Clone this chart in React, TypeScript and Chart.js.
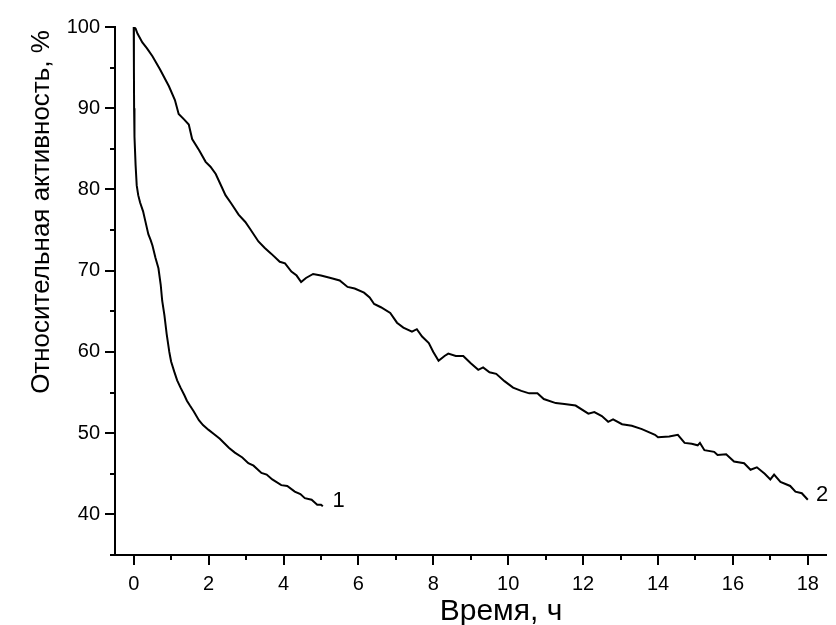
import React, { useEffect, useRef } from "react";
import { Chart, registerables } from "chart.js";

Chart.register(...registerables);

// ---- Data ----
const CURVE1_T = [0, 0.005, 0.01, 0.02, 0.05, 0.08, 0.12, 0.17, 0.25, 0.31, 0.39, 0.45, 0.5, 0.58, 0.66, 0.72, 0.76, 0.82, 0.88, 0.95, 0.97, 1.0, 1.08, 1.16, 1.25, 1.35, 1.42, 1.5, 1.6, 1.74, 1.85, 2.0, 2.14, 2.3, 2.54, 2.7, 2.9, 3.06, 3.2, 3.41, 3.55, 3.7, 3.94, 4.1, 4.3, 4.45, 4.57, 4.75, 4.9, 5.0, 5.05];
const CURVE1_A = [100, 95, 90, 86.5, 83, 80.5, 79.3, 78.4, 77.3, 76.1, 74.5, 73.8, 73.1, 71.6, 70.3, 68.3, 66.3, 64.5, 62.2, 60.0, 59.5, 58.8, 57.6, 56.5, 55.6, 54.7, 54.0, 53.4, 52.7, 51.6, 51.0, 50.4, 49.9, 49.3, 48.2, 47.6, 47.0, 46.3, 46.0, 45.1, 44.9, 44.3, 43.6, 43.5, 42.8, 42.5, 42.0, 41.8, 41.2, 41.2, 41.0];

const CURVE2_T = [0, 0.05, 0.1, 0.23, 0.35, 0.5, 0.7, 0.94, 1.1, 1.2, 1.35, 1.47, 1.56, 1.75, 1.92, 2.05, 2.19, 2.35, 2.45, 2.6, 2.8, 2.98, 3.1, 3.33, 3.5, 3.67, 3.9, 4.04, 4.21, 4.35, 4.47, 4.6, 4.79, 5.0, 5.26, 5.5, 5.71, 5.9, 6.15, 6.3, 6.42, 6.6, 6.85, 7.03, 7.2, 7.43, 7.56, 7.7, 7.88, 8.0, 8.14, 8.3, 8.4, 8.6, 8.8, 9.0, 9.2, 9.33, 9.5, 9.68, 9.9, 10.13, 10.35, 10.56, 10.78, 10.95, 11.27, 11.5, 11.8, 12.14, 12.3, 12.5, 12.67, 12.8, 13.04, 13.3, 13.57, 13.92, 14.0, 14.3, 14.53, 14.71, 14.9, 15.06, 15.12, 15.24, 15.5, 15.59, 15.82, 16.03, 16.3, 16.47, 16.64, 16.85, 17.0, 17.1, 17.27, 17.53, 17.67, 17.84, 18.0];
const CURVE2_A = [100, 99.8, 99.2, 98.1, 97.4, 96.4, 94.8, 92.7, 91.0, 89.3, 88.6, 88.0, 86.2, 84.8, 83.4, 82.8, 81.9, 80.3, 79.3, 78.3, 76.9, 76.0, 75.2, 73.6, 72.8, 72.1, 71.1, 70.9, 69.9, 69.4, 68.6, 69.1, 69.6, 69.4, 69.1, 68.8, 68.0, 67.8, 67.3, 66.7, 65.9, 65.5, 64.8, 63.6, 63.0, 62.5, 62.8, 61.9, 61.1, 60.0, 58.9, 59.5, 59.8, 59.5, 59.5, 58.6, 57.8, 58.1, 57.5, 57.3, 56.4, 55.6, 55.2, 54.9, 54.9, 54.2, 53.7, 53.6, 53.4, 52.4, 52.6, 52.1, 51.4, 51.7, 51.1, 50.9, 50.5, 49.8, 49.5, 49.6, 49.8, 48.8, 48.7, 48.5, 48.8, 47.9, 47.7, 47.3, 47.4, 46.5, 46.3, 45.5, 45.8, 45.0, 44.3, 44.9, 44.0, 43.5, 42.8, 42.6, 41.8];

const X_TICKS = [0, 2, 4, 6, 8, 10, 12, 14, 16, 18];
const Y_TICKS = [40, 50, 60, 70, 80, 90, 100];
const CURVE_LABELS = ["1", "2"];
const CURVE_LABEL_X = [5.47, 18.38];
const CURVE_LABEL_Y = [41.7, 42.4];
const X_TITLE = "Время, ч";
const Y_TITLE = "Относительная активность, %";

const FONT = '"Liberation Sans", Arial, Helvetica, sans-serif';

const decorPlugin = {
  id: "decor",
  afterDraw(chart: any) {
    const ctx = chart.ctx;
    const xs = chart.scales.x;
    const ys = chart.scales.y;
    const area = chart.chartArea;
    ctx.save();
    ctx.strokeStyle = "#000";
    ctx.lineWidth = 2;
    ctx.beginPath();
    for (let v = 0; v <= 18; v++) {
      const px = Math.round(xs.getPixelForValue(v));
      const len = X_TICKS.includes(v) ? 10 : 5;
      ctx.moveTo(px, area.bottom);
      ctx.lineTo(px, area.bottom + len);
    }
    for (let v = 35; v <= 100; v += 5) {
      const py = Math.round(ys.getPixelForValue(v));
      const len = Y_TICKS.includes(v) ? 10 : 5;
      ctx.moveTo(area.left, py);
      ctx.lineTo(area.left - len, py);
    }
    ctx.stroke();

    ctx.fillStyle = "#000";
    ctx.font = `22px ${FONT}`;
    ctx.textAlign = "center";
    ctx.textBaseline = "middle";
    CURVE_LABELS.forEach((t, i) => {
      ctx.fillText(t, xs.getPixelForValue(CURVE_LABEL_X[i]), ys.getPixelForValue(CURVE_LABEL_Y[i]));
    });

    // X title
    ctx.font = `30px ${FONT}`;
    ctx.textAlign = "center";
    ctx.textBaseline = "alphabetic";
    ctx.fillText(X_TITLE, 501, 620);

    // Y title
    ctx.translate(49, 212);
    ctx.rotate(-Math.PI / 2);
    ctx.font = `26px ${FONT}`;
    ctx.textAlign = "center";
    ctx.textBaseline = "alphabetic";
    ctx.fillText(Y_TITLE, 0, 0);
    ctx.restore();
  },
};

export default function App() {
  const ref = useRef<HTMLCanvasElement>(null);
  useEffect(() => {
    if (!ref.current) return;
    const chart = new Chart(ref.current, {
      type: "line",
      data: {
        datasets: [
          {
            label: "1",
            data: CURVE1_T.map((t, i) => ({ x: t, y: CURVE1_A[i] })),
            borderColor: "#000",
            borderWidth: 2,
            pointRadius: 0,
            fill: false,
            tension: 0,
          },
          {
            label: "2",
            data: CURVE2_T.map((t, i) => ({ x: t, y: CURVE2_A[i] })),
            borderColor: "#000",
            borderWidth: 2,
            pointRadius: 0,
            fill: false,
            tension: 0,
          },
        ],
      },
      options: {
        responsive: false,
        animation: false,
        devicePixelRatio: 1,
        layout: { padding: { top: 24, right: 3, left: 0, bottom: 0 } },
        plugins: { legend: { display: false }, tooltip: { enabled: false }, title: { display: false } },
        scales: {
          x: {
            type: "linear",
            min: -0.5,
            max: 18.5,
            grid: { display: false, drawTicks: false },
            border: { display: true, color: "#000", width: 2 },
            afterFit: (s: any) => { s.height = 70; },
            afterBuildTicks: (s: any) => { s.ticks = X_TICKS.map((v) => ({ value: v })); },
            ticks: {
              autoSkip: false,
              maxRotation: 0,
              padding: 17,
              color: "#000",
              font: { family: FONT, size: 20 },
              callback: (v: any) => String(v),
            },
          },
          y: {
            type: "linear",
            min: 35,
            max: 100,
            grid: { display: false, drawTicks: false },
            border: { display: true, color: "#000", width: 2 },
            afterFit: (s: any) => { s.width = 115; },
            afterBuildTicks: (s: any) => { s.ticks = Y_TICKS.map((v) => ({ value: v })); },
            ticks: {
              autoSkip: false,
              padding: 15,
              color: "#000",
              font: { family: FONT, size: 20 },
              callback: (v: any) => String(v),
            },
          },
        },
      },
      plugins: [decorPlugin],
    });
    return () => chart.destroy();
  }, []);
  return (
    <div style={{ position: "absolute", left: 0, top: 0, width: 836, height: 625, background: "#fff" }}>
      <canvas ref={ref} width={836} height={625} style={{ display: "block", width: 836, height: 625 }} />
    </div>
  );
}
